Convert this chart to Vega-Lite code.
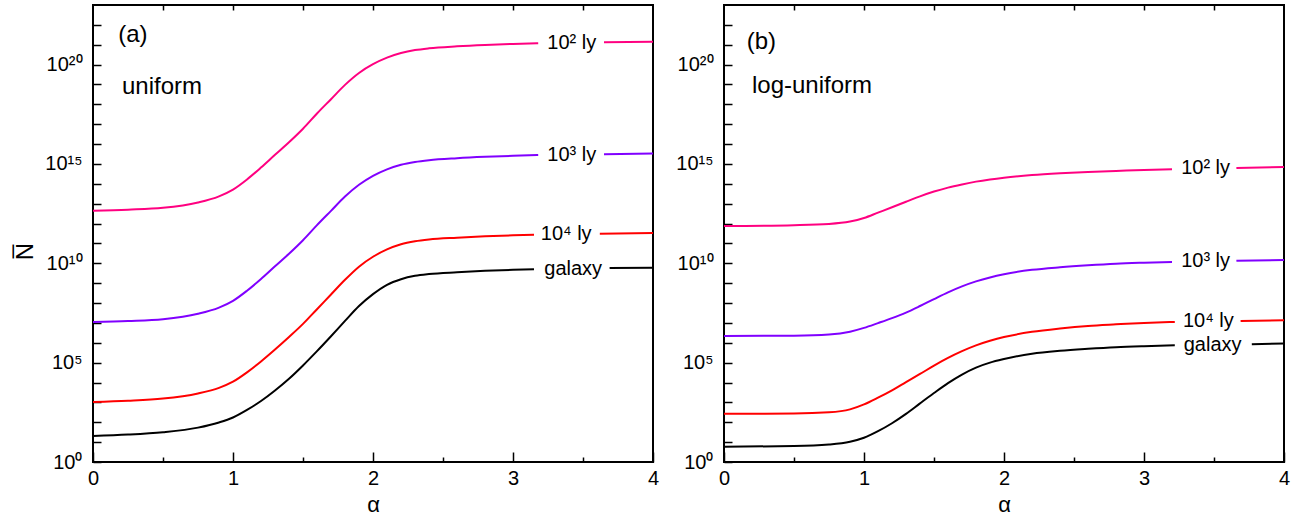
{
  "$schema": "https://vega.github.io/schema/vega-lite/v6.json",
  "padding": {"left": 12, "top": 3, "right": 5, "bottom": 5},
  "bounds": "flush",
  "spacing": 71,
  "config": {
    "font": "Liberation Sans",
    "view": {"stroke": "black", "strokeWidth": 2},
    "axis": {"domain": false, "grid": false, "tickColor": "black", "tickWidth": 1.5, "labelColor": "black", "labelFont": "Liberation Sans", "labelFontSize": 20, "titleFont": "Liberation Sans", "titleColor": "black", "titleFontWeight": "normal", "titleFontSize": 22, "labelFlush": false, "labelOverlap": false},
    "line": {"strokeWidth": 2, "interpolate": "monotone"},
    "text": {"font": "Liberation Sans", "color": "black"}
  },
  "datasets": {
    "curves": [
      {"panel":"a","series":"10² ly","seg":1,"alpha":0,"log10N":12.65},{"panel":"a","series":"10² ly","seg":1,"alpha":0.25,"log10N":12.7},{"panel":"a","series":"10² ly","seg":1,"alpha":0.5,"log10N":12.79},{"panel":"a","series":"10² ly","seg":1,"alpha":0.75,"log10N":13.06},{"panel":"a","series":"10² ly","seg":1,"alpha":0.9,"log10N":13.37},{"panel":"a","series":"10² ly","seg":1,"alpha":1,"log10N":13.71},{"panel":"a","series":"10² ly","seg":1,"alpha":1.1,"log10N":14.22},{"panel":"a","series":"10² ly","seg":1,"alpha":1.2,"log10N":14.82},{"panel":"a","series":"10² ly","seg":1,"alpha":1.3,"log10N":15.46},{"panel":"a","series":"10² ly","seg":1,"alpha":1.4,"log10N":16.09},{"panel":"a","series":"10² ly","seg":1,"alpha":1.5,"log10N":16.77},{"panel":"a","series":"10² ly","seg":1,"alpha":1.6,"log10N":17.54},{"panel":"a","series":"10² ly","seg":1,"alpha":1.7,"log10N":18.26},{"panel":"a","series":"10² ly","seg":1,"alpha":1.8,"log10N":18.98},{"panel":"a","series":"10² ly","seg":1,"alpha":1.9,"log10N":19.58},{"panel":"a","series":"10² ly","seg":1,"alpha":2,"log10N":20.02},{"panel":"a","series":"10² ly","seg":1,"alpha":2.1,"log10N":20.35},{"panel":"a","series":"10² ly","seg":1,"alpha":2.2,"log10N":20.58},{"panel":"a","series":"10² ly","seg":1,"alpha":2.3,"log10N":20.73},{"panel":"a","series":"10² ly","seg":1,"alpha":2.4,"log10N":20.82},{"panel":"a","series":"10² ly","seg":1,"alpha":2.6,"log10N":20.92},{"panel":"a","series":"10² ly","seg":1,"alpha":2.8,"log10N":20.99},{"panel":"a","series":"10² ly","seg":1,"alpha":3,"log10N":21.04},{"panel":"a","series":"10² ly","seg":1,"alpha":3.18,"log10N":21.08},
      {"panel":"a","series":"10² ly","seg":2,"alpha":3.65,"log10N":21.12},{"panel":"a","series":"10² ly","seg":2,"alpha":4,"log10N":21.15},
      {"panel":"a","series":"10³ ly","seg":1,"alpha":0,"log10N":7.05},{"panel":"a","series":"10³ ly","seg":1,"alpha":0.25,"log10N":7.1},{"panel":"a","series":"10³ ly","seg":1,"alpha":0.5,"log10N":7.19},{"panel":"a","series":"10³ ly","seg":1,"alpha":0.75,"log10N":7.46},{"panel":"a","series":"10³ ly","seg":1,"alpha":0.9,"log10N":7.77},{"panel":"a","series":"10³ ly","seg":1,"alpha":1,"log10N":8.11},{"panel":"a","series":"10³ ly","seg":1,"alpha":1.1,"log10N":8.62},{"panel":"a","series":"10³ ly","seg":1,"alpha":1.2,"log10N":9.21},{"panel":"a","series":"10³ ly","seg":1,"alpha":1.3,"log10N":9.85},{"panel":"a","series":"10³ ly","seg":1,"alpha":1.4,"log10N":10.48},{"panel":"a","series":"10³ ly","seg":1,"alpha":1.5,"log10N":11.16},{"panel":"a","series":"10³ ly","seg":1,"alpha":1.6,"log10N":11.92},{"panel":"a","series":"10³ ly","seg":1,"alpha":1.7,"log10N":12.64},{"panel":"a","series":"10³ ly","seg":1,"alpha":1.8,"log10N":13.36},{"panel":"a","series":"10³ ly","seg":1,"alpha":1.9,"log10N":13.95},{"panel":"a","series":"10³ ly","seg":1,"alpha":2,"log10N":14.4},{"panel":"a","series":"10³ ly","seg":1,"alpha":2.1,"log10N":14.73},{"panel":"a","series":"10³ ly","seg":1,"alpha":2.2,"log10N":14.96},{"panel":"a","series":"10³ ly","seg":1,"alpha":2.3,"log10N":15.1},{"panel":"a","series":"10³ ly","seg":1,"alpha":2.4,"log10N":15.19},{"panel":"a","series":"10³ ly","seg":1,"alpha":2.6,"log10N":15.29},{"panel":"a","series":"10³ ly","seg":1,"alpha":2.8,"log10N":15.36},{"panel":"a","series":"10³ ly","seg":1,"alpha":3,"log10N":15.41},{"panel":"a","series":"10³ ly","seg":1,"alpha":3.18,"log10N":15.45},
      {"panel":"a","series":"10³ ly","seg":2,"alpha":3.65,"log10N":15.49},{"panel":"a","series":"10³ ly","seg":2,"alpha":4,"log10N":15.52},
      {"panel":"a","series":"10⁴ ly","seg":1,"alpha":0,"log10N":3.02},{"panel":"a","series":"10⁴ ly","seg":1,"alpha":0.25,"log10N":3.08},{"panel":"a","series":"10⁴ ly","seg":1,"alpha":0.5,"log10N":3.19},{"panel":"a","series":"10⁴ ly","seg":1,"alpha":0.75,"log10N":3.45},{"panel":"a","series":"10⁴ ly","seg":1,"alpha":0.9,"log10N":3.73},{"panel":"a","series":"10⁴ ly","seg":1,"alpha":1,"log10N":4.04},{"panel":"a","series":"10⁴ ly","seg":1,"alpha":1.1,"log10N":4.51},{"panel":"a","series":"10⁴ ly","seg":1,"alpha":1.2,"log10N":5.06},{"panel":"a","series":"10⁴ ly","seg":1,"alpha":1.3,"log10N":5.66},{"panel":"a","series":"10⁴ ly","seg":1,"alpha":1.4,"log10N":6.29},{"panel":"a","series":"10⁴ ly","seg":1,"alpha":1.5,"log10N":6.95},{"panel":"a","series":"10⁴ ly","seg":1,"alpha":1.6,"log10N":7.69},{"panel":"a","series":"10⁴ ly","seg":1,"alpha":1.7,"log10N":8.43},{"panel":"a","series":"10⁴ ly","seg":1,"alpha":1.8,"log10N":9.17},{"panel":"a","series":"10⁴ ly","seg":1,"alpha":1.9,"log10N":9.83},{"panel":"a","series":"10⁴ ly","seg":1,"alpha":2,"log10N":10.33},{"panel":"a","series":"10⁴ ly","seg":1,"alpha":2.1,"log10N":10.7},{"panel":"a","series":"10⁴ ly","seg":1,"alpha":2.2,"log10N":10.96},{"panel":"a","series":"10⁴ ly","seg":1,"alpha":2.3,"log10N":11.11},{"panel":"a","series":"10⁴ ly","seg":1,"alpha":2.4,"log10N":11.2},{"panel":"a","series":"10⁴ ly","seg":1,"alpha":2.6,"log10N":11.29},{"panel":"a","series":"10⁴ ly","seg":1,"alpha":2.8,"log10N":11.36},{"panel":"a","series":"10⁴ ly","seg":1,"alpha":3,"log10N":11.41},{"panel":"a","series":"10⁴ ly","seg":1,"alpha":3.15,"log10N":11.44},
      {"panel":"a","series":"10⁴ ly","seg":2,"alpha":3.62,"log10N":11.49},{"panel":"a","series":"10⁴ ly","seg":2,"alpha":4,"log10N":11.52},
      {"panel":"a","series":"galaxy","seg":1,"alpha":0,"log10N":1.31},{"panel":"a","series":"galaxy","seg":1,"alpha":0.25,"log10N":1.38},{"panel":"a","series":"galaxy","seg":1,"alpha":0.5,"log10N":1.5},{"panel":"a","series":"galaxy","seg":1,"alpha":0.75,"log10N":1.73},{"panel":"a","series":"galaxy","seg":1,"alpha":0.9,"log10N":1.99},{"panel":"a","series":"galaxy","seg":1,"alpha":1,"log10N":2.24},{"panel":"a","series":"galaxy","seg":1,"alpha":1.1,"log10N":2.62},{"panel":"a","series":"galaxy","seg":1,"alpha":1.2,"log10N":3.07},{"panel":"a","series":"galaxy","seg":1,"alpha":1.3,"log10N":3.6},{"panel":"a","series":"galaxy","seg":1,"alpha":1.4,"log10N":4.19},{"panel":"a","series":"galaxy","seg":1,"alpha":1.5,"log10N":4.86},{"panel":"a","series":"galaxy","seg":1,"alpha":1.6,"log10N":5.58},{"panel":"a","series":"galaxy","seg":1,"alpha":1.7,"log10N":6.33},{"panel":"a","series":"galaxy","seg":1,"alpha":1.8,"log10N":7.1},{"panel":"a","series":"galaxy","seg":1,"alpha":1.9,"log10N":7.85},{"panel":"a","series":"galaxy","seg":1,"alpha":2,"log10N":8.45},{"panel":"a","series":"galaxy","seg":1,"alpha":2.1,"log10N":8.92},{"panel":"a","series":"galaxy","seg":1,"alpha":2.2,"log10N":9.2},{"panel":"a","series":"galaxy","seg":1,"alpha":2.3,"log10N":9.37},{"panel":"a","series":"galaxy","seg":1,"alpha":2.4,"log10N":9.46},{"panel":"a","series":"galaxy","seg":1,"alpha":2.6,"log10N":9.55},{"panel":"a","series":"galaxy","seg":1,"alpha":2.8,"log10N":9.62},{"panel":"a","series":"galaxy","seg":1,"alpha":3,"log10N":9.67},{"panel":"a","series":"galaxy","seg":1,"alpha":3.15,"log10N":9.7},
      {"panel":"a","series":"galaxy","seg":2,"alpha":3.69,"log10N":9.76},{"panel":"a","series":"galaxy","seg":2,"alpha":4,"log10N":9.78},
      {"panel":"b","series":"10² ly","seg":1,"alpha":0,"log10N":11.88},{"panel":"b","series":"10² ly","seg":1,"alpha":0.5,"log10N":11.92},{"panel":"b","series":"10² ly","seg":1,"alpha":0.75,"log10N":11.98},{"panel":"b","series":"10² ly","seg":1,"alpha":0.9,"log10N":12.1},{"panel":"b","series":"10² ly","seg":1,"alpha":1,"log10N":12.28},{"panel":"b","series":"10² ly","seg":1,"alpha":1.1,"log10N":12.55},{"panel":"b","series":"10² ly","seg":1,"alpha":1.2,"log10N":12.82},{"panel":"b","series":"10² ly","seg":1,"alpha":1.3,"log10N":13.1},{"panel":"b","series":"10² ly","seg":1,"alpha":1.4,"log10N":13.37},{"panel":"b","series":"10² ly","seg":1,"alpha":1.5,"log10N":13.61},{"panel":"b","series":"10² ly","seg":1,"alpha":1.6,"log10N":13.81},{"panel":"b","series":"10² ly","seg":1,"alpha":1.7,"log10N":13.97},{"panel":"b","series":"10² ly","seg":1,"alpha":1.8,"log10N":14.11},{"panel":"b","series":"10² ly","seg":1,"alpha":1.9,"log10N":14.22},{"panel":"b","series":"10² ly","seg":1,"alpha":2,"log10N":14.31},{"panel":"b","series":"10² ly","seg":1,"alpha":2.2,"log10N":14.44},{"panel":"b","series":"10² ly","seg":1,"alpha":2.4,"log10N":14.53},{"panel":"b","series":"10² ly","seg":1,"alpha":2.6,"log10N":14.6},{"panel":"b","series":"10² ly","seg":1,"alpha":2.8,"log10N":14.65},{"panel":"b","series":"10² ly","seg":1,"alpha":3,"log10N":14.7},{"panel":"b","series":"10² ly","seg":1,"alpha":3.2,"log10N":14.73},
      {"panel":"b","series":"10² ly","seg":2,"alpha":3.66,"log10N":14.8},{"panel":"b","series":"10² ly","seg":2,"alpha":4,"log10N":14.85},
      {"panel":"b","series":"10³ ly","seg":1,"alpha":0,"log10N":6.34},{"panel":"b","series":"10³ ly","seg":1,"alpha":0.5,"log10N":6.36},{"panel":"b","series":"10³ ly","seg":1,"alpha":0.75,"log10N":6.42},{"panel":"b","series":"10³ ly","seg":1,"alpha":0.9,"log10N":6.56},{"panel":"b","series":"10³ ly","seg":1,"alpha":1,"log10N":6.75},{"panel":"b","series":"10³ ly","seg":1,"alpha":1.1,"log10N":6.99},{"panel":"b","series":"10³ ly","seg":1,"alpha":1.2,"log10N":7.24},{"panel":"b","series":"10³ ly","seg":1,"alpha":1.3,"log10N":7.52},{"panel":"b","series":"10³ ly","seg":1,"alpha":1.4,"log10N":7.85},{"panel":"b","series":"10³ ly","seg":1,"alpha":1.5,"log10N":8.2},{"panel":"b","series":"10³ ly","seg":1,"alpha":1.6,"log10N":8.54},{"panel":"b","series":"10³ ly","seg":1,"alpha":1.7,"log10N":8.84},{"panel":"b","series":"10³ ly","seg":1,"alpha":1.8,"log10N":9.09},{"panel":"b","series":"10³ ly","seg":1,"alpha":1.9,"log10N":9.29},{"panel":"b","series":"10³ ly","seg":1,"alpha":2,"log10N":9.45},{"panel":"b","series":"10³ ly","seg":1,"alpha":2.2,"log10N":9.67},{"panel":"b","series":"10³ ly","seg":1,"alpha":2.4,"log10N":9.8},{"panel":"b","series":"10³ ly","seg":1,"alpha":2.6,"log10N":9.9},{"panel":"b","series":"10³ ly","seg":1,"alpha":2.8,"log10N":9.98},{"panel":"b","series":"10³ ly","seg":1,"alpha":3,"log10N":10.03},{"panel":"b","series":"10³ ly","seg":1,"alpha":3.2,"log10N":10.07},
      {"panel":"b","series":"10³ ly","seg":2,"alpha":3.66,"log10N":10.13},{"panel":"b","series":"10³ ly","seg":2,"alpha":4,"log10N":10.17},
      {"panel":"b","series":"10⁴ ly","seg":1,"alpha":0,"log10N":2.43},{"panel":"b","series":"10⁴ ly","seg":1,"alpha":0.5,"log10N":2.44},{"panel":"b","series":"10⁴ ly","seg":1,"alpha":0.75,"log10N":2.5},{"panel":"b","series":"10⁴ ly","seg":1,"alpha":0.9,"log10N":2.65},{"panel":"b","series":"10⁴ ly","seg":1,"alpha":1,"log10N":2.9},{"panel":"b","series":"10⁴ ly","seg":1,"alpha":1.1,"log10N":3.24},{"panel":"b","series":"10⁴ ly","seg":1,"alpha":1.2,"log10N":3.61},{"panel":"b","series":"10⁴ ly","seg":1,"alpha":1.3,"log10N":4.02},{"panel":"b","series":"10⁴ ly","seg":1,"alpha":1.4,"log10N":4.43},{"panel":"b","series":"10⁴ ly","seg":1,"alpha":1.5,"log10N":4.85},{"panel":"b","series":"10⁴ ly","seg":1,"alpha":1.6,"log10N":5.24},{"panel":"b","series":"10⁴ ly","seg":1,"alpha":1.7,"log10N":5.58},{"panel":"b","series":"10⁴ ly","seg":1,"alpha":1.8,"log10N":5.87},{"panel":"b","series":"10⁴ ly","seg":1,"alpha":1.9,"log10N":6.1},{"panel":"b","series":"10⁴ ly","seg":1,"alpha":2,"log10N":6.29},{"panel":"b","series":"10⁴ ly","seg":1,"alpha":2.2,"log10N":6.55},{"panel":"b","series":"10⁴ ly","seg":1,"alpha":2.4,"log10N":6.72},{"panel":"b","series":"10⁴ ly","seg":1,"alpha":2.6,"log10N":6.85},{"panel":"b","series":"10⁴ ly","seg":1,"alpha":2.8,"log10N":6.93},{"panel":"b","series":"10⁴ ly","seg":1,"alpha":3,"log10N":7.0},{"panel":"b","series":"10⁴ ly","seg":1,"alpha":3.22,"log10N":7.05},
      {"panel":"b","series":"10⁴ ly","seg":2,"alpha":3.69,"log10N":7.1},{"panel":"b","series":"10⁴ ly","seg":2,"alpha":4,"log10N":7.13},
      {"panel":"b","series":"galaxy","seg":1,"alpha":0,"log10N":0.77},{"panel":"b","series":"galaxy","seg":1,"alpha":0.5,"log10N":0.8},{"panel":"b","series":"galaxy","seg":1,"alpha":0.75,"log10N":0.88},{"panel":"b","series":"galaxy","seg":1,"alpha":0.9,"log10N":1.02},{"panel":"b","series":"galaxy","seg":1,"alpha":1,"log10N":1.22},{"panel":"b","series":"galaxy","seg":1,"alpha":1.1,"log10N":1.55},{"panel":"b","series":"galaxy","seg":1,"alpha":1.2,"log10N":1.95},{"panel":"b","series":"galaxy","seg":1,"alpha":1.3,"log10N":2.42},{"panel":"b","series":"galaxy","seg":1,"alpha":1.4,"log10N":2.95},{"panel":"b","series":"galaxy","seg":1,"alpha":1.5,"log10N":3.47},{"panel":"b","series":"galaxy","seg":1,"alpha":1.6,"log10N":3.97},{"panel":"b","series":"galaxy","seg":1,"alpha":1.7,"log10N":4.4},{"panel":"b","series":"galaxy","seg":1,"alpha":1.8,"log10N":4.75},{"panel":"b","series":"galaxy","seg":1,"alpha":1.9,"log10N":5.0},{"panel":"b","series":"galaxy","seg":1,"alpha":2,"log10N":5.18},{"panel":"b","series":"galaxy","seg":1,"alpha":2.2,"log10N":5.45},{"panel":"b","series":"galaxy","seg":1,"alpha":2.4,"log10N":5.6},{"panel":"b","series":"galaxy","seg":1,"alpha":2.6,"log10N":5.7},{"panel":"b","series":"galaxy","seg":1,"alpha":2.8,"log10N":5.78},{"panel":"b","series":"galaxy","seg":1,"alpha":3,"log10N":5.83},{"panel":"b","series":"galaxy","seg":1,"alpha":3.22,"log10N":5.87},
      {"panel":"b","series":"galaxy","seg":2,"alpha":3.77,"log10N":5.93},{"panel":"b","series":"galaxy","seg":2,"alpha":4,"log10N":5.97}
    ],
    "labels": [
      {"panel":"a","text":"10² ly","alpha":3.42,"log10N":21.08},
      {"panel":"a","text":"10³ ly","alpha":3.42,"log10N":15.47},
      {"panel":"a","text":"10⁴ ly","alpha":3.38,"log10N":11.48},
      {"panel":"a","text":"galaxy","alpha":3.43,"log10N":9.72},
      {"panel":"b","text":"10² ly","alpha":3.44,"log10N":14.78},
      {"panel":"b","text":"10³ ly","alpha":3.44,"log10N":10.1},
      {"panel":"b","text":"10⁴ ly","alpha":3.46,"log10N":7.08},
      {"panel":"b","text":"galaxy","alpha":3.49,"log10N":5.9}
    ],
    "notes": [
      {"panel":"a","text":"(a)","alpha":0.18,"log10N":21.49},
      {"panel":"a","text":"uniform","alpha":0.207,"log10N":18.87},
      {"panel":"b","text":"(b)","alpha":0.162,"log10N":21.14},
      {"panel":"b","text":"log-uniform","alpha":0.2,"log10N":18.9}
    ]
  },
  "hconcat": [
    {
      "width": 560, "height": 457,
      "resolve": {"axis": {"x": "independent", "y": "independent"}},
      "layer": [
        {
          "data": {"name": "curves"},
          "transform": [{"filter": "datum.panel == 'a'"}],
          "mark": {"type": "line"},
          "encoding": {
            "x": {"field": "alpha", "type": "quantitative", "scale": {"domain": [0, 4], "nice": false, "zero": false},
              "axis": {"orient": "bottom", "values": [0,1,2,3,4], "format": "d", "tickSize": -10, "labelPadding": 16, "title": "α", "titleY": 49, "titleBaseline": "alphabetic"}},
            "y": {"field": "log10N", "type": "quantitative", "scale": {"domain": [0, 23], "nice": false, "zero": false},
              "axis": {"orient": "left", "values": [0,1,2,3,4,5,6,7,8,9,10,11,12,13,14,15,16,17,18,19,20,21,22], "labelExpr": "datum.value == 0 ? '10⁰' : datum.value == 5 ? '10⁵' : datum.value == 10 ? '10¹⁰' : datum.value == 15 ? '10¹⁵' : datum.value == 20 ? '10²⁰' : ''", "tickSize": -8, "labelPadding": 19, "title": "N̅", "titleFontSize": 24, "titleX": -61, "titleY": 246, "titleAngle": -90, "titleBaseline": "alphabetic", "titleAlign": "center"}},
            "color": {"field": "series", "type": "nominal", "scale": {"domain": ["10² ly", "10³ ly", "10⁴ ly", "galaxy"], "range": ["#ff0080", "#8000ff", "#ff0000", "#000000"]}, "legend": null},
            "detail": {"field": "seg"}
          }
        },
        {
          "data": {"name": "labels"},
          "transform": [{"filter": "datum.panel == 'a'"}],
          "mark": {"type": "text", "fontSize": 20, "align": "center", "baseline": "middle"},
          "encoding": {
            "x": {"field": "alpha", "type": "quantitative", "axis": {"orient": "bottom", "values": [0.5,1.5,2.5,3.5], "labels": false, "tickSize": -5, "title": null}},
            "y": {"field": "log10N", "type": "quantitative", "axis": null},
            "text": {"field": "text"}
          }
        },
        {
          "data": {"name": "notes"},
          "transform": [{"filter": "datum.panel == 'a'"}],
          "mark": {"type": "text", "fontSize": 24, "align": "left", "baseline": "middle"},
          "encoding": {
            "x": {"field": "alpha", "type": "quantitative", "axis": {"orient": "top", "values": [0.5,1,1.5,2,2.5,3,3.5], "labels": false, "tickSize": -5, "title": null}},
            "y": {"field": "log10N", "type": "quantitative", "axis": null},
            "text": {"field": "text"}
          }
        }
      ]
    },
    {
      "width": 560, "height": 457,
      "resolve": {"axis": {"x": "independent", "y": "independent"}},
      "layer": [
        {
          "data": {"name": "curves"},
          "transform": [{"filter": "datum.panel == 'b'"}],
          "mark": {"type": "line"},
          "encoding": {
            "x": {"field": "alpha", "type": "quantitative", "scale": {"domain": [0, 4], "nice": false, "zero": false},
              "axis": {"orient": "bottom", "values": [0,1,2,3,4], "format": "d", "tickSize": -10, "labelPadding": 16, "title": "α", "titleY": 49, "titleBaseline": "alphabetic"}},
            "y": {"field": "log10N", "type": "quantitative", "scale": {"domain": [0, 23], "nice": false, "zero": false},
              "axis": {"orient": "left", "values": [0,1,2,3,4,5,6,7,8,9,10,11,12,13,14,15,16,17,18,19,20,21,22], "labelExpr": "datum.value == 0 ? '10⁰' : datum.value == 5 ? '10⁵' : datum.value == 10 ? '10¹⁰' : datum.value == 15 ? '10¹⁵' : datum.value == 20 ? '10²⁰' : ''", "tickSize": -8, "labelPadding": 19, "title": null}},
            "color": {"field": "series", "type": "nominal", "scale": {"domain": ["10² ly", "10³ ly", "10⁴ ly", "galaxy"], "range": ["#ff0080", "#8000ff", "#ff0000", "#000000"]}, "legend": null},
            "detail": {"field": "seg"}
          }
        },
        {
          "data": {"name": "labels"},
          "transform": [{"filter": "datum.panel == 'b'"}],
          "mark": {"type": "text", "fontSize": 20, "align": "center", "baseline": "middle"},
          "encoding": {
            "x": {"field": "alpha", "type": "quantitative", "axis": {"orient": "bottom", "values": [0.5,1.5,2.5,3.5], "labels": false, "tickSize": -5, "title": null}},
            "y": {"field": "log10N", "type": "quantitative", "axis": null},
            "text": {"field": "text"}
          }
        },
        {
          "data": {"name": "notes"},
          "transform": [{"filter": "datum.panel == 'b'"}],
          "mark": {"type": "text", "fontSize": 24, "align": "left", "baseline": "middle"},
          "encoding": {
            "x": {"field": "alpha", "type": "quantitative", "axis": {"orient": "top", "values": [0.5,1,1.5,2,2.5,3,3.5], "labels": false, "tickSize": -5, "title": null}},
            "y": {"field": "log10N", "type": "quantitative", "axis": null},
            "text": {"field": "text"}
          }
        }
      ]
    }
  ]
}
